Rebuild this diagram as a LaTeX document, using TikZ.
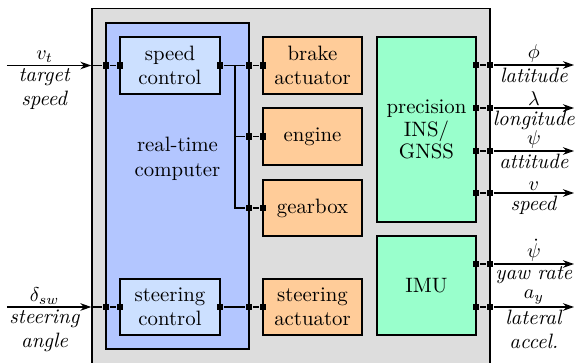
\documentclass[tikz,border=0pt]{standalone}
\usetikzlibrary{arrows.meta}
\definecolor{outerg}{RGB}{221,221,221}
\definecolor{rtcblue}{RGB}{179,198,255}
\definecolor{ctrlblue}{RGB}{204,224,255}
\definecolor{actor}{RGB}{255,204,153}
\definecolor{sensg}{RGB}{153,255,204}
\begin{document}
\begin{tikzpicture}[x=0.5pt,y=-0.5pt,
  every node/.style={font=\fontsize{10.4pt}{12.2pt}\selectfont},
  box/.style={draw, line width=0.7pt, inner sep=0pt, align=center},
  port/.style={fill=black, minimum size=3.4pt, inner sep=0pt},
  wire/.style={line width=0.7pt},
  sig/.style={line width=0.7pt, -{Stealth[length=5.5pt,width=3.8pt,inset=1.8pt]}},
  lab/.style={inner sep=1pt, align=center}]
\clip (0,0) rectangle (575,363);
% boxes
\node[box, fill=outerg, minimum width=199pt, minimum height=185pt] (outer) at (291,193.5) {};
\node[box, fill=rtcblue, minimum width=71.5pt, minimum height=163pt] (rtc) at (177.5,186) {};
\node[align=center] (rtclabel) at (177.5,159) {real-time\\computer};
\node[box, fill=ctrlblue, minimum width=50pt, minimum height=28.5pt] (speed) at (170,65.5) {speed\\control};
\node[box, fill=ctrlblue, minimum width=50pt, minimum height=28pt] (steer) at (170,307) {steering\\control};
\node[box, fill=actor, minimum width=49.5pt, minimum height=28.5pt] (brake) at (312.5,65.5) {brake\\actuator};
\node[box, fill=actor, minimum width=49.5pt, minimum height=28.5pt] (engine) at (312.5,136.5) {engine};
\node[box, fill=actor, minimum width=49.5pt, minimum height=28pt] (gearbox) at (312.5,208) {gearbox};
\node[box, fill=actor, minimum width=49.5pt, minimum height=28pt] (steeract) at (312.5,307) {steering\\actuator};
\node[box, fill=sensg, minimum width=49.5pt, minimum height=92.5pt, font=\fontsize{10.4pt}{11.4pt}\selectfont] (ins) at (426.5,129.5) {precision\\INS/\\GNSS};
\node[box, fill=sensg, minimum width=49.5pt, minimum height=49.5pt] (imu) at (426.5,285.5) {IMU};
% ports
\node[port] (pi1) at (106,65.5) {};
\node[port] (pi2) at (120,65.5) {};
\node[port] (ps1) at (220,65.5) {};
\node[port] (ps2) at (249,65.5) {};
\node[port] (ps3) at (263,65.5) {};
\node[port] (pe1) at (249,136.5) {};
\node[port] (pe2) at (263,136.5) {};
\node[port] (pg1) at (249,208) {};
\node[port] (pg2) at (263,208) {};
\node[port] (qi1) at (106,307) {};
\node[port] (qi2) at (120,307) {};
\node[port] (qs1) at (220,307) {};
\node[port] (qs2) at (249,307) {};
\node[port] (qs3) at (263,307) {};
\node[port] (oa1) at (476,65) {};
\node[port] (oa2) at (490,65) {};
\node[port] (ob1) at (476,108) {};
\node[port] (ob2) at (490,108) {};
\node[port] (oc1) at (476,151) {};
\node[port] (oc2) at (490,151) {};
\node[port] (od1) at (476,193) {};
\node[port] (od2) at (490,193) {};
\node[port] (oe1) at (476,264) {};
\node[port] (oe2) at (490,264) {};
\node[port] (of1) at (476,307) {};
\node[port] (of2) at (490,307) {};
% inputs
\coordinate (vin) at (7,65.5);
\coordinate (vedge) at (outer.west |- pi1);
\draw[sig] (vin) -- (vedge)
  node[midway, above, lab, xshift=-2.25pt] (vtl) {$v_t$}
  node[midway, below, lab, xshift=-2.25pt] (vtt) {\textit{target}\\\textit{speed}};
\draw[wire] (vedge) -- (pi1) -- (pi2);
\coordinate (din) at (7,307);
\coordinate (dedge) at (outer.west |- qi1);
\draw[sig] (din) -- (dedge)
  node[midway, above, lab, xshift=-2.25pt] (dl) {$\delta_{sw}$}
  node[midway, below, lab, xshift=-2.25pt] (dt) {\textit{steering}\\\textit{angle}};
\draw[wire] (dedge) -- (qi1) -- (qi2);
% internal wiring
\coordinate (br) at (235,65.5);
\draw[wire] (ps1) -- (ps2) -- (ps3);
\draw[wire] (br) |- (pe1);
\draw[wire] (br) |- (pg1);
\draw[wire] (pe1) -- (pe2);
\draw[wire] (pg1) -- (pg2);
\draw[wire] (qs1) -- (qs2) -- (qs3);
% outputs
\draw[wire] (oa1) -- (oa2);
\draw[wire] (ob1) -- (ob2);
\draw[wire] (oc1) -- (oc2);
\draw[wire] (od1) -- (od2);
\draw[wire] (oe1) -- (oe2);
\draw[wire] (of1) -- (of2);
\coordinate (ea) at (574,65);
\coordinate (eb) at (574,108);
\coordinate (ec) at (574,151);
\coordinate (ed) at (574,193);
\coordinate (ee) at (574,264);
\coordinate (ef) at (574,307);
\draw[sig] (oa2) -- (ea) node[midway, above, lab] {$\phi$} node[midway, below, lab] {\textit{latitude}};
\draw[sig] (ob2) -- (eb) node[midway, above, lab] {$\lambda$} node[midway, below, lab] {\textit{longitude}};
\draw[sig] (oc2) -- (ec) node[midway, above, lab] {$\psi$} node[midway, below, lab] {\textit{attitude}};
\draw[sig] (od2) -- (ed) node[midway, above, lab] {$v$} node[midway, below, lab] {\textit{speed}};
\draw[sig] (oe2) -- (ee) node[midway, above, lab] {$\dot{\psi}$} node[midway, below, lab] {\textit{yaw rate}};
\draw[sig] (of2) -- (ef) node[midway, above, lab] {$a_y$} node[midway, below, lab] {\textit{lateral}\\\textit{accel.}};
\end{tikzpicture}
\end{document}
